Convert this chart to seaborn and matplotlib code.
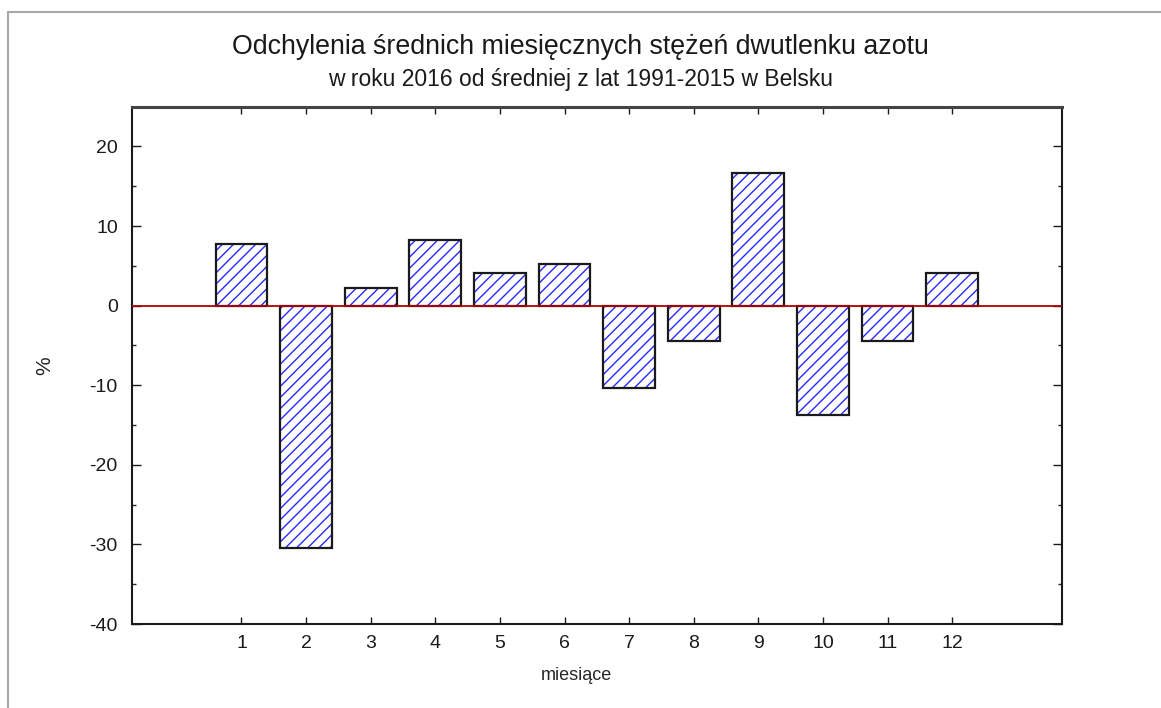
import pandas as pd
import matplotlib.pyplot as plt
import seaborn as sns
from matplotlib.lines import Line2D
from matplotlib.ticker import MultipleLocator

# dane: odchylenia [%] dla kolejnych miesięcy
miesiace = ["1", "2", "3", "4", "5", "6", "7", "8", "9", "10", "11", "12"]
odchylenia = [7.7, -30.4, 2.2, 8.2, 4.1, 5.25, -10.4, -4.5, 16.7, -13.75, -4.4, 4.05]

df = pd.DataFrame({"miesiac": miesiace, "odchylenie": odchylenia})

sns.set_style("ticks")
plt.rcParams["font.family"] = ["Liberation Sans", "DejaVu Sans"]
plt.rcParams["hatch.linewidth"] = 1.0
plt.rcParams["axes.unicode_minus"] = False

fig = plt.figure(figsize=(11.61, 7.08), dpi=100)
ax = fig.add_axes([0.1134, 0.1186, 0.8013, 0.7307])

# kreskowanie (niebieskie) + obrys (czarny)
sns.barplot(data=df, x="miesiac", y="odchylenie", order=miesiace, color="white",
            edgecolor="#2828ff", linewidth=0, hatch="///", width=0.8, ax=ax, zorder=2)
sns.barplot(data=df, x="miesiac", y="odchylenie", order=miesiace, fill=False,
            color="#1a1a1a", linewidth=1.6, width=0.8, ax=ax, zorder=3)

ax.axhline(0, color="#b00000", linewidth=1.3, zorder=4)

ax.set_xlim(-1.7, 12.7)
ax.set_ylim(-40, 25)
ax.yaxis.set_major_locator(MultipleLocator(10))
ax.yaxis.set_minor_locator(MultipleLocator(5))

ax.tick_params(axis="x", direction="in", top=True, length=5, width=1, pad=8,
               labelsize=14, colors="#1a1a1a")
ax.tick_params(axis="y", which="major", direction="in", right=True, length=6.5,
               width=1, pad=10, labelsize=14, colors="#1a1a1a")
ax.tick_params(axis="y", which="minor", direction="in", right=True, length=3, width=1)

for side in ["left", "right", "bottom"]:
    ax.spines[side].set_linewidth(1.5)
    ax.spines[side].set_color("#1a1a1a")
ax.spines["top"].set_linewidth(2.2)
ax.spines["top"].set_color("#444444")

ax.set_xlabel("miesiące", fontsize=13)
ax.set_ylabel("%", fontsize=15)
ax.xaxis.set_label_coords(0.478, -0.083)
ax.yaxis.set_label_coords(-0.0835, 0.5)

fig.text(0.5, 0.9336, "Odchylenia średnich miesięcznych stężeń dwutlenku azotu",
         ha="center", va="center", fontsize=19.3, color="#1a1a1a")
fig.text(0.5, 0.8875, "w roku 2016 od średniej z lat 1991-2015 w Belsku",
         ha="center", va="center", fontsize=16.5, color="#1a1a1a")

# ramka wokół wykresu (lewa i górna krawędź)
fig.add_artist(Line2D([8 / 1161, 8 / 1161], [0, 1 - 12 / 708], transform=fig.transFigure,
                      color="#a8a8a8", linewidth=1.5))
fig.add_artist(Line2D([8 / 1161, 1], [1 - 12 / 708, 1 - 12 / 708], transform=fig.transFigure,
                      color="#a8a8a8", linewidth=1.5))

plt.savefig("out.png", dpi=100)
